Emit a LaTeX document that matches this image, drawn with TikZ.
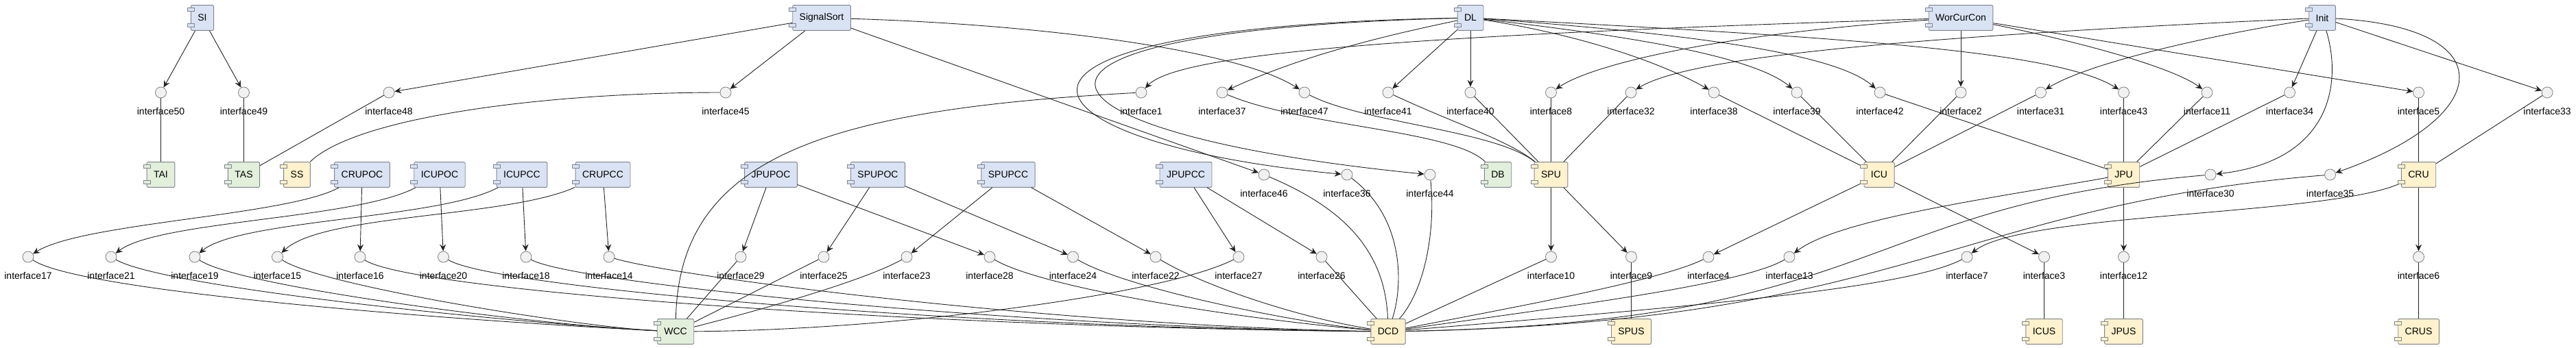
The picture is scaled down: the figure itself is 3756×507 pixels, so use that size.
\documentclass[tikz,border=0pt]{standalone}
\usepackage{fontspec}
\setmainfont{Liberation Sans}
\usetikzlibrary{arrows.meta}
\definecolor{cblue}{HTML}{DAE3F3}
\definecolor{cgreen}{HTML}{E2EFDA}
\definecolor{cyel}{HTML}{FFF2CC}
\definecolor{cbord}{HTML}{7F8590}
\definecolor{ifill}{HTML}{F1F1F1}
\definecolor{iline}{HTML}{808080}
\definecolor{eline}{HTML}{222222}
\newcommand\ifc[3]{\node[iface] (i#1) at (#2,#3) {}; \node[ilabel] (l#1) at (#2,#3+32.5) {interface#1};}
\begin{document}
\begin{tikzpicture}[x=1pt,y=-1pt,
  font=\fontsize{14}{16}\selectfont,
  comp/.style={draw=cbord, line width=0.9pt, rounded corners=1.5pt, minimum height=36.7pt, inner xsep=10pt, inner ysep=0pt},
  bcomp/.style={comp, fill=cblue},
  gcomp/.style={comp, fill=cgreen},
  ycomp/.style={comp, fill=cyel},
  iface/.style={circle, draw=iline, fill=ifill, line width=0.8pt, minimum size=16pt, inner sep=0pt},
  ilabel/.style={anchor=base, inner sep=0pt},
  conn/.style={draw=eline, line width=0.9pt},
  arr/.style={conn, -{Stealth[length=10pt,width=9pt,inset=3.5pt]}},
  port/.style={draw=cbord, line width=0.8pt},
]
\useasboundingbox (0,0) rectangle (3756,507);

% ---- components row 1
\node[bcomp] (SI) at (295,26) {SI};
\node[bcomp] (SignalSort) at (1198,26) {SignalSort};
\node[bcomp] (DL) at (2144,26) {DL};
\node[bcomp] (WorCurCon) at (2859,26) {WorCurCon};
\node[bcomp] (Init) at (3386,26) {Init};

% ---- components row 3
\node[gcomp] (TAI) at (234.5,255) {TAI};
\node[gcomp] (TAS) at (355.5,255) {TAS};
\node[ycomp] (SS) at (433,255) {SS};
\node[bcomp] (CRUPOC) at (528,255) {CRUPOC};
\node[bcomp] (ICUPOC) at (641,255) {ICUPOC};
\node[bcomp] (ICUPCC) at (761,255) {ICUPCC};
\node[bcomp] (CRUPCC) at (879,255) {CRUPCC};
\node[bcomp] (JPUPOC) at (1124,255) {JPUPOC};
\node[bcomp] (SPUPOC) at (1280,255) {SPUPOC};
\node[bcomp] (SPUPCC) at (1470,255) {SPUPCC};
\node[bcomp] (JPUPCC) at (1729,255) {JPUPCC};
\node[gcomp] (DB) at (2184,255) {DB};
\node[ycomp] (SPU) at (2261.5,255) {SPU};
\node[ycomp] (ICU) at (2740,255) {ICU};
\node[ycomp] (JPU) at (3096.5,255) {JPU};
\node[ycomp] (CRU) at (3526.5,255) {CRU};

% ---- components row 5
\node[gcomp] (WCC) at (985,484) {WCC};
\node[ycomp] (DCD) at (2024,484) {DCD};
\node[ycomp] (SPUS) at (2378.5,484) {SPUS};
\node[ycomp] (ICUS) at (2980.5,484) {ICUS};
\node[ycomp] (JPUS) at (3096.5,484) {JPUS};
\node[ycomp] (CRUS) at (3526.5,484) {CRUS};

% ---- interfaces row 2
\ifc{50}{234.5}{135}
\ifc{49}{355.5}{135}
\ifc{48}{567}{135}
\ifc{45}{1058}{135}
\ifc{1}{1664}{135}
\ifc{37}{1782}{135}
\ifc{47}{1902}{135}
\ifc{41}{2024}{135}
\ifc{40}{2144}{135}
\ifc{8}{2261.5}{135}
\ifc{32}{2378}{135}
\ifc{38}{2499}{135}
\ifc{39}{2620}{135}
\ifc{42}{2741}{135}
\ifc{2}{2859}{135}
\ifc{31}{2975.5}{135}
\ifc{43}{3096.5}{135}
\ifc{11}{3218}{135}
\ifc{34}{3338.5}{135}
\ifc{5}{3526.5}{135}
\ifc{33}{3714}{135}
% ---- interfaces row 3
\ifc{46}{1843}{255}
\ifc{36}{1964}{255}
\ifc{44}{2085}{255}
\ifc{30}{3223}{255}
\ifc{35}{3397.5}{255}
% ---- interfaces row 4
\ifc{17}{41}{375}
\ifc{21}{162}{375}
\ifc{19}{284}{375}
\ifc{15}{404.5}{375}
\ifc{16}{525}{375}
\ifc{20}{646.5}{375}
\ifc{18}{767}{375}
\ifc{14}{888}{375}
\ifc{29}{1080}{375}
\ifc{25}{1201}{375}
\ifc{23}{1322}{375}
\ifc{28}{1443}{375}
\ifc{24}{1564.5}{375}
\ifc{22}{1685}{375}
\ifc{27}{1806}{375}
\ifc{26}{1927}{375}
\ifc{10}{2261.5}{375}
\ifc{9}{2378.5}{375}
\ifc{4}{2491}{375}
\ifc{13}{2609}{375}
\ifc{7}{2868}{375}
\ifc{3}{2980.5}{375}
\ifc{12}{3096.5}{375}
\ifc{6}{3526.5}{375}

% ---- SI
\draw[arr] (SI) -- (i50);
\draw[arr] (SI) -- (i49);
\draw[conn] (i50) -- (TAI);
\draw[conn] (i49) -- (TAS);
% ---- SignalSort
\draw[arr] (SignalSort) -- (i48);
\draw[conn] (i48) -- (TAS);
\draw[arr] (SignalSort) -- (i45);
\draw[conn] (i45) .. controls (800,135) and (520,170) .. (SS);
\draw[arr] (SignalSort) .. controls (1500,35) and (1800,70) .. (i47);
\draw[arr] (SignalSort) -- (i46);
\draw[conn] (i46) .. controls (1950,300) and (2020,360) .. (DCD);
% ---- DL
\draw[arr] (DL) -- (i41);
\draw[arr] (DL) -- (i40);
\draw[arr] (DL) .. controls (1980,60) and (1880,90) .. (i37);
\draw[arr] (DL) .. controls (1350,40) and (1480,210) .. (i36);
\draw[arr] (DL) .. controls (1380,45) and (1480,195) .. (i44);
\draw[arr] (DL) .. controls (2300,50) and (2420,90) .. (i38);
\draw[arr] (DL) .. controls (2400,55) and (2560,85) .. (i39);
\draw[arr] (DL) .. controls (2480,50) and (2680,80) .. (i42);
\draw[arr] (DL) .. controls (2700,55) and (3000,75) .. (i43);
% ---- WorCurCon
\draw[arr] (WorCurCon) .. controls (2100,50) and (1720,75) .. (i1);
\draw[arr] (WorCurCon) .. controls (2500,50) and (2320,95) .. (i8);
\draw[arr] (WorCurCon) -- (i2);
\draw[arr] (WorCurCon) .. controls (3050,65) and (3170,100) .. (i11);
\draw[arr] (WorCurCon) -- (i5);
% ---- Init
\draw[arr] (Init) .. controls (2750,55) and (2460,85) .. (i32);
\draw[arr] (Init) .. controls (3200,55) and (3040,95) .. (i31);
\draw[arr] (Init) -- (i34);
\draw[arr] (Init) .. controls (3415,120) and (3400,235) .. (i30);
\draw[arr] (Init) .. controls (3650,40) and (3640,170) .. (i35);
\draw[arr] (Init) -- (i33);
% ---- to SPU / DB
\draw[conn] (i47) .. controls (1990,180) and (2180,190) .. (SPU);
\draw[conn] (i41) .. controls (2120,180) and (2200,205) .. (SPU);
\draw[conn] (i40) -- (SPU);
\draw[conn] (i8) -- (SPU);
\draw[conn] (i32) -- (SPU);
\draw[conn] (i37) .. controls (1900,185) and (2120,190) .. (DB);
% ---- to ICU / JPU / CRU
\draw[conn] (i38) -- (ICU);
\draw[conn] (i39) -- (ICU);
\draw[conn] (i2) -- (ICU);
\draw[conn] (i31) -- (ICU);
\draw[conn] (i42) -- (JPU);
\draw[conn] (i43) -- (JPU);
\draw[conn] (i11) -- (JPU);
\draw[conn] (i34) -- (JPU);
\draw[conn] (i5) -- (CRU);
\draw[conn] (i33) -- (CRU);
% ---- DCD top
\draw[conn] (i36) .. controls (2050,320) and (2045,420) .. (DCD);
\draw[conn] (i44) .. controls (2093,330) and (2080,420) .. (DCD);
% ---- row 3 -> row 4
\draw[arr] (CRUPOC) .. controls (420,315) and (120,325) .. (i17);
\draw[arr] (CRUPOC) -- (i16);
\draw[arr] (ICUPOC) .. controls (520,320) and (230,322) .. (i21);
\draw[arr] (ICUPOC) -- (i20);
\draw[arr] (ICUPCC) .. controls (640,320) and (350,320) .. (i19);
\draw[arr] (ICUPCC) -- (i18);
\draw[arr] (CRUPCC) .. controls (740,318) and (470,312) .. (i15);
\draw[arr] (CRUPCC) -- (i14);
\draw[arr] (JPUPOC) -- (i29);
\draw[arr] (JPUPOC) -- (i28);
\draw[arr] (SPUPOC) -- (i25);
\draw[arr] (SPUPOC) -- (i24);
\draw[arr] (SPUPCC) -- (i23);
\draw[arr] (SPUPCC) -- (i22);
\draw[arr] (JPUPCC) -- (i27);
\draw[arr] (JPUPCC) -- (i26);
\draw[arr] (SPU) -- (i10);
\draw[arr] (SPU) -- (i9);
\draw[arr] (ICU) -- (i4);
\draw[arr] (ICU) -- (i3);
\draw[arr] (JPU) .. controls (2900,290) and (2680,320) .. (i13);
\draw[arr] (JPU) -- (i12);
\draw[arr] (CRU) .. controls (3400,315) and (2950,310) .. (i7);
\draw[arr] (CRU) -- (i6);
% ---- row 4 -> WCC
\draw[conn] (i17) .. controls (120,428) and (700,470) .. (WCC);
\draw[conn] (i21) .. controls (240,420) and (750,472) .. (WCC);
\draw[conn] (i19) .. controls (350,420) and (800,476) .. (WCC);
\draw[conn] (i15) .. controls (470,418) and (850,478) .. (WCC);
\draw[conn] (i29) -- (WCC);
\draw[conn] (i25) -- (WCC);
\draw[conn] (i23) .. controls (1260,410) and (1100,455) .. (WCC);
\draw[conn] (i27) .. controls (1700,430) and (1300,482) .. (WCC);
\draw[conn] (i1) .. controls (1200,160) and (990,230) .. (WCC);
% ---- row 4 -> DCD
\draw[conn] (i16) .. controls (600,425) and (1350,478) .. (DCD);
\draw[conn] (i20) .. controls (720,420) and (1400,478) .. (DCD);
\draw[conn] (i18) .. controls (840,415) and (1500,478) .. (DCD);
\draw[conn] (i14) .. controls (990,405) and (1550,476) .. (DCD);
\draw[conn] (i28) .. controls (1520,420) and (1800,465) .. (DCD);
\draw[conn] (i24) .. controls (1640,420) and (1880,470) .. (DCD);
\draw[conn] (i22) .. controls (1760,420) and (1900,465) .. (DCD);
\draw[conn] (i26) -- (DCD);
\draw[conn] (i10) -- (DCD);
\draw[conn] (i4) .. controls (2420,410) and (2200,450) .. (DCD);
\draw[conn] (i13) .. controls (2540,415) and (2300,445) .. (DCD);
\draw[conn] (i7) .. controls (2780,420) and (2500,445) .. (DCD);
\draw[conn] (i30) .. controls (2700,300) and (2750,470) .. (DCD);
\draw[conn] (i35) .. controls (2850,300) and (2780,470) .. (DCD);
% ---- to row 5 leaves
\draw[conn] (i9) -- (SPUS);
\draw[conn] (i3) -- (ICUS);
\draw[conn] (i12) -- (JPUS);
\draw[conn] (i6) -- (CRUS);

% ---- component ports
\foreach \n in {SI,SignalSort,DL,WorCurCon,Init,CRUPOC,ICUPOC,ICUPCC,CRUPCC,JPUPOC,SPUPOC,SPUPCC,JPUPCC} {
  \draw[port, fill=cblue] ([xshift=-4.7pt,yshift=-4.3pt]\n.north west) rectangle ++(10pt,-5pt);
  \draw[port, fill=cblue] ([xshift=-4.7pt,yshift=5pt]\n.south west) rectangle ++(10pt,5pt);
}
\foreach \n in {TAI,TAS,DB,WCC} {
  \draw[port, fill=cgreen] ([xshift=-4.7pt,yshift=-4.3pt]\n.north west) rectangle ++(10pt,-5pt);
  \draw[port, fill=cgreen] ([xshift=-4.7pt,yshift=5pt]\n.south west) rectangle ++(10pt,5pt);
}
\foreach \n in {SS,SPU,ICU,JPU,CRU,DCD,SPUS,ICUS,JPUS,CRUS} {
  \draw[port, fill=cyel] ([xshift=-4.7pt,yshift=-4.3pt]\n.north west) rectangle ++(10pt,-5pt);
  \draw[port, fill=cyel] ([xshift=-4.7pt,yshift=5pt]\n.south west) rectangle ++(10pt,5pt);
}
\end{tikzpicture}
\end{document}
